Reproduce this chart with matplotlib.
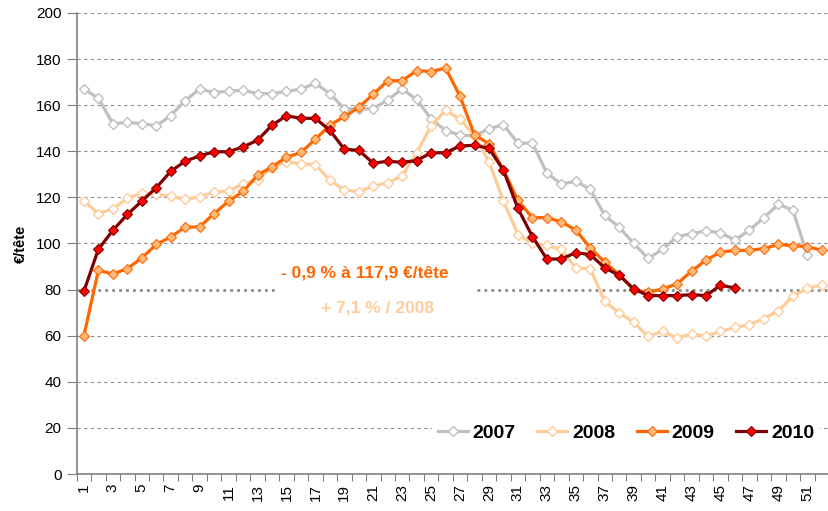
import matplotlib
matplotlib.use("Agg")
import matplotlib.pyplot as plt

plt.rcParams['font.family'] = ['Liberation Sans', 'DejaVu Sans']

# Semaines et séries (€/tête)
semaines_2007 = list(range(1, 52))
prix_2007 = [167, 163, 152, 152.5, 152, 151, 155.5, 162, 167, 165.5, 166, 166.5, 165, 165, 166, 167, 169.5,
             165, 158.5, 158.3, 158.5, 162.3, 167, 162.5, 154, 149, 147, 146.7, 149.8, 151.5, 143.5,
             143.5, 130.5, 125.8, 127, 123.5, 112.2, 107, 100, 93.5, 97.5, 103, 104.2, 105.5, 104.6,
             101.5, 105.8, 111.2, 117, 114.5, 95]

semaines_2008 = list(range(1, 53))
prix_2008 = [118.5, 113, 115, 119.6, 122, 121.3, 120.6, 119.1, 120.3, 122.3, 122.7, 125.9, 127.4, 132.9,
             135.4, 134.6, 134.2, 127.4, 123.2, 122.5, 124.9, 126.4, 129.3, 139.4, 151, 157.8, 153.9,
             146.7, 135.5, 118.4, 103.9, 100, 99.2, 97.4, 89.4, 89.1, 74.9, 69.9, 65.8, 59.7, 61.9, 59,
             60.9, 59.7, 61.9, 63.6, 64.8, 67.4, 70.9, 77.1, 80.7, 81.9]

semaines_2009 = list(range(1, 53))
prix_2009 = [60, 88.4, 86.8, 89.1, 93.7, 99.6, 102.8, 107.1, 107.2, 113, 118.3, 122.6, 129.6, 133.3,
             137.4, 139.5, 145.2, 151.3, 155.1, 159, 164.8, 170.6, 170.6, 175, 174.6, 176.1, 163.8,
             147, 143.3, 131.9, 118.7, 111.2, 111.2, 109.4, 105.8, 98.1, 91.9, 86.5, 80, 78.8, 80.3,
             82.5, 88, 92.8, 96.2, 97, 97, 97.8, 99.6, 99.1, 98.6, 97.1]

semaines_2010 = list(range(1, 47))
prix_2010 = [79.3, 97.5, 105.7, 112.6, 118.4, 124.2, 131.3, 135.7, 138, 139.8, 139.8, 141.9, 144.8,
             151.3, 155.4, 154.3, 154.3, 149.1, 140.9, 140.4, 134.8, 135.7, 135.2, 136, 139.3, 139.4,
             142.3, 142.6, 141.3, 131.7, 115.2, 103, 93.2, 93.3, 96, 95.2, 89.4, 86.2, 80.3, 77.4, 77.4,
             77.4, 77.8, 77.4, 81.9, 80.7]

niveaux_grille = [20, 40, 60, 100, 120, 140, 160, 180, 200]

fig = plt.figure(figsize=(8.29, 5.11), dpi=100)
ax = fig.add_axes([0.0925, 0.0724, 0.9075, 0.9022])

# Grille pointillée
ax.hlines(niveaux_grille, 0.5, 52.5, colors='#8c8c8c', linewidth=0.8,
          linestyles=(0, (3, 3)), zorder=1)
# Ligne de référence à 80 (interrompue par le texte)
ax.hlines([80, 80], [0.5, 28.2], [14.4, 52.5], colors='#8c8c8c', linewidth=2,
          linestyles=(0, (1, 1.5)), zorder=1)

ax.plot(semaines_2007, prix_2007, color='#C0C0C0', lw=2.3, marker='D', ms=5.5,
        mfc='white', mec='#C0C0C0', mew=1, label='2007', zorder=3)
ax.plot(semaines_2008, prix_2008, color='#FFCC99', lw=2.3, marker='D', ms=5.5,
        mfc='white', mec='#FFCC99', mew=1, label='2008', zorder=4)
ax.plot(semaines_2009, prix_2009, color='#FF6600', lw=2.3, marker='D', ms=5.5,
        mfc='#FFB97A', mec='#FF6600', mew=0.8, label='2009', zorder=5)
ax.plot(semaines_2010, prix_2010, color='#800000', lw=2.3, marker='D', ms=5.5,
        mfc='#FF0000', mec='#800000', mew=0.8, label='2010', zorder=6)

ax.text(20.4, 87.4, '- 0,9 % à 117,9 €/tête', color='#FF6600', fontsize=12.5,
        fontweight='bold', ha='center', va='center', zorder=7)
ax.text(21.3, 72.2, '+ 7,1 % / 2008', color='#FFCC99', fontsize=12.5,
        fontweight='bold', ha='center', va='center', zorder=7)

ax.set_xlim(0.5, 52.5)
ax.set_ylim(0, 200)
ax.set_yticks(range(0, 201, 20))
ax.set_xticks([i + 0.5 for i in range(0, 53)], minor=False)
ax.set_xticklabels([])
ax.set_xticks(list(range(1, 52, 2)), minor=True)
ax.set_xticklabels([str(i) for i in range(1, 52, 2)], minor=True, rotation=90, fontsize=11)
ax.tick_params(axis='x', which='minor', length=0, pad=7)
ax.tick_params(axis='x', which='major', length=5, color='#808080', direction='out')
ax.tick_params(axis='y', labelsize=11, length=7, color='#808080', pad=4)

for cote in ['top', 'right']:
    ax.spines[cote].set_visible(False)
for cote in ['left', 'bottom']:
    ax.spines[cote].set_color('#808080')
    ax.spines[cote].set_linewidth(1.2)

ax.set_ylabel('€/tête', fontsize=10.5, fontweight='bold', labelpad=6)

leg = ax.legend(ncol=4, loc='center', bbox_to_anchor=(0.73, 0.089),
                frameon=True, framealpha=1, facecolor='white', edgecolor='none',
                prop={'weight': 'bold', 'size': 14}, handlelength=1.55,
                columnspacing=1.1, handletextpad=0.25, borderpad=0.3)
leg.set_zorder(8)

fig.savefig('out.png', dpi=100)
